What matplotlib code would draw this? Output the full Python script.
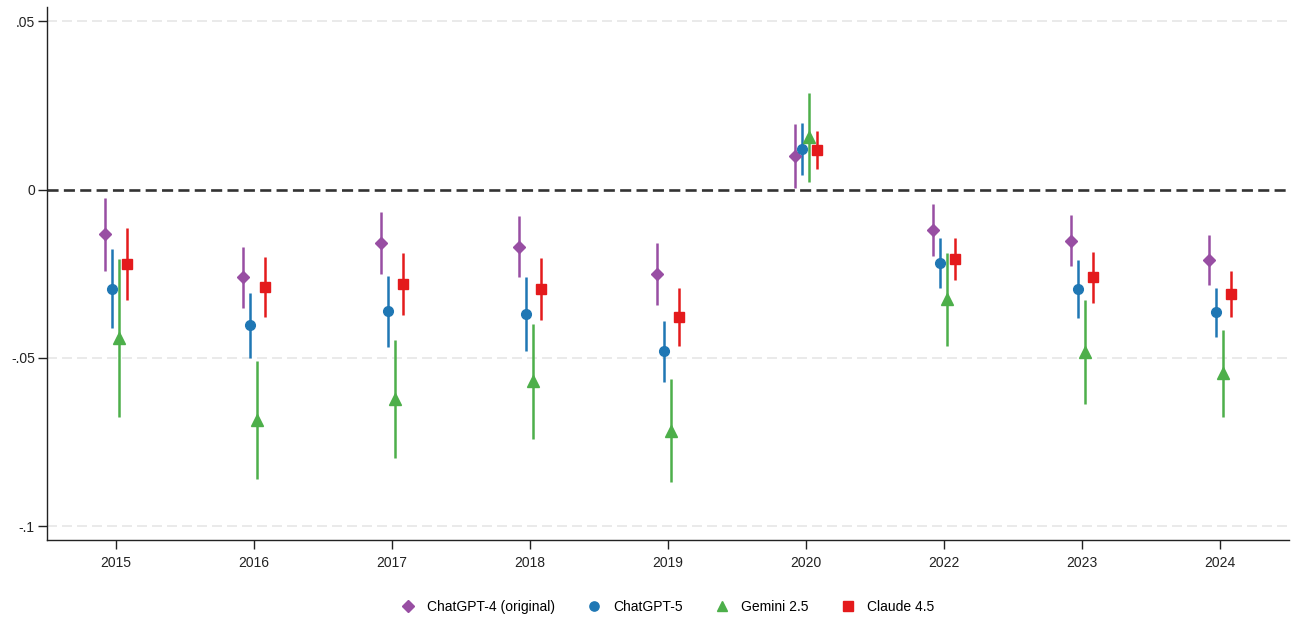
import matplotlib
matplotlib.use("Agg")
import matplotlib.pyplot as plt
from matplotlib.lines import Line2D
import numpy as np

plt.rcParams['font.family'] = ['Liberation Sans', 'DejaVu Sans']

# Survey years on the x axis
years = ['2015', '2016', '2017', '2018', '2019', '2020', '2022', '2023', '2024']

# Point estimates and 95% CI half-widths per model
gpt4 = [-0.0133, -0.0261, -0.0159, -0.0170, -0.0252, 0.0100, -0.0120, -0.0152, -0.0209]
gpt4_ci = [0.0109, 0.0091, 0.0091, 0.0090, 0.0092, 0.0096, 0.0078, 0.0076, 0.0075]

gpt5 = [-0.0295, -0.0403, -0.0362, -0.0370, -0.0481, 0.0121, -0.0218, -0.0296, -0.0365]
gpt5_ci = [0.0117, 0.0097, 0.0105, 0.0111, 0.0090, 0.0078, 0.0074, 0.0087, 0.0073]

gemini = [-0.0441, -0.0685, -0.0622, -0.0569, -0.0716, 0.0155, -0.0326, -0.0483, -0.0546]
gemini_ci = [0.0236, 0.0176, 0.0174, 0.0171, 0.0152, 0.0132, 0.0138, 0.0154, 0.0129]

claude = [-0.0221, -0.0289, -0.0281, -0.0296, -0.0378, 0.0117, -0.0206, -0.0261, -0.0310]
claude_ci = [0.0108, 0.0089, 0.0091, 0.0092, 0.0086, 0.0057, 0.0063, 0.0076, 0.0068]

labels = ['ChatGPT-4 (original)', 'ChatGPT-5', 'Gemini 2.5', 'Claude 4.5']
series = [gpt4, gpt5, gemini, claude]
cis = [gpt4_ci, gpt5_ci, gemini_ci, claude_ci]
colors = ['#984ea3', '#1f77b4', '#4daf4a', '#e41a1c']
markers = ['D', 'o', '^', 's']
msizes = [6.5, 7, 8, 7]
offsets = [-0.08, -0.027, 0.027, 0.08]

fig = plt.figure(figsize=(13.03, 6.21), dpi=100)
ax = fig.add_axes([0.0358, 0.1304, 0.9532, 0.8588])

x = np.arange(len(years))

# Reference grid and zero line
for yv in [0.05, -0.05, -0.1]:
    ax.axhline(yv, color='#e6e6e6', lw=1.2, dashes=(6, 3), zorder=0)
ax.axhline(0, color='#333333', lw=1.9, dashes=(4.2, 2.0), zorder=1)

handles = []
for vals, ci, c, m, ms, off, lab in zip(series, cis, colors, markers, msizes, offsets, labels):
    ax.errorbar(x + off, vals, yerr=ci, fmt=m, color=c, ms=ms, mec=c,
                elinewidth=1.8, capsize=0, zorder=3)
    handles.append(Line2D([], [], linestyle='none', marker=m, color=c,
                          mec=c, ms=ms * 0.95))

ax.set_xlim(-0.5, 8.5)
ax.set_ylim(-0.1041, 0.0543)
ax.set_xticks(x)
ax.set_xticklabels(years)
ax.set_yticks([0.05, 0, -0.05, -0.1])
ax.set_yticklabels(['.05', '0', '-.05', '-.1'])

for s in ['top', 'right']:
    ax.spines[s].set_visible(False)
for s in ['left', 'bottom']:
    ax.spines[s].set_color('#222222')
    ax.spines[s].set_linewidth(1.0)

ax.tick_params(axis='both', direction='out', length=6.5, width=1.0,
               colors='#222222', labelsize=10, labelcolor='#222222')
ax.tick_params(axis='x', pad=5)
ax.tick_params(axis='y', pad=2)

fig.legend(handles=handles, labels=labels, loc='center', ncol=4,
           bbox_to_anchor=(0.5124, 0.0225), frameon=False, fontsize=10,
           handlelength=1.0, handletextpad=0.85, columnspacing=2.35)

fig.savefig('out.png', dpi=100)
